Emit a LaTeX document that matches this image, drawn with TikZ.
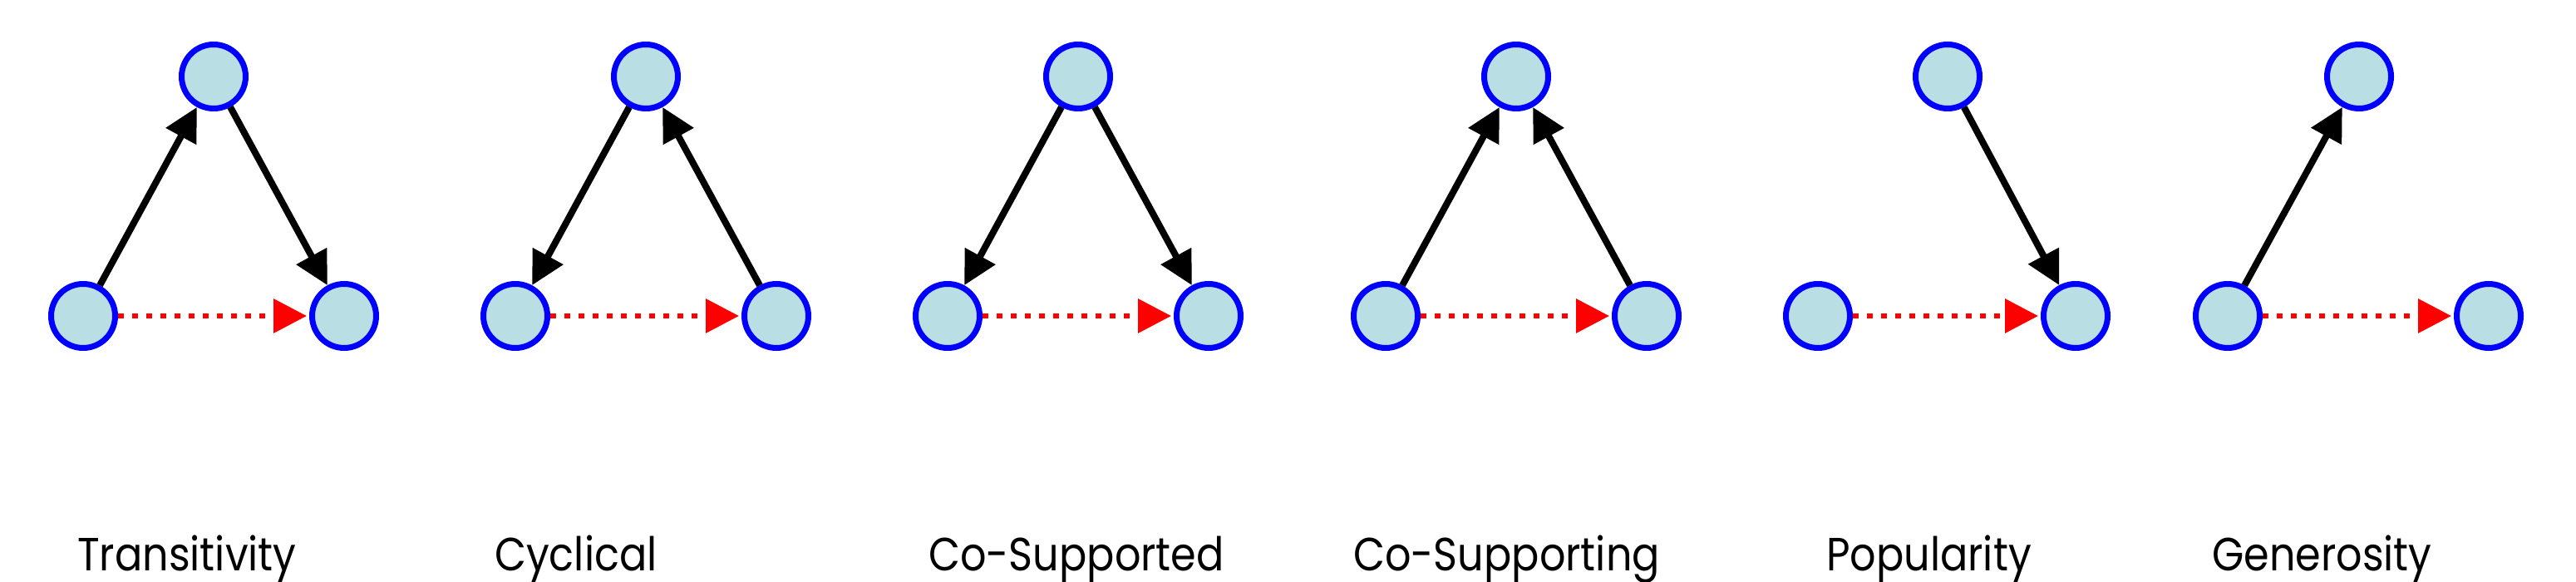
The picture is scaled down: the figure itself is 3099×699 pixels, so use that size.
\documentclass[tikz,border=0pt]{standalone}
\usepackage{fontspec}
\setmainfont{Poppins}[FakeStretch=0.88]
\usetikzlibrary{arrows.meta}
\definecolor{nodefill}{RGB}{185,223,228}
\definecolor{nodeline}{RGB}{0,0,255}
\begin{document}
\begin{tikzpicture}[x=1pt,y=1pt,
  vtx/.style={circle,draw=nodeline,fill=nodefill,line width=7pt,minimum size=77pt,inner sep=0pt},
  tie/.style={line width=8pt,draw=black,-{Triangle[length=40pt,width=40pt]}},
  tiered/.style={line width=6.5pt,draw=red,dash pattern=on 6.5pt off 10.5pt,-{Triangle[length=40pt,width=40pt]},shorten >=3pt},
  lbl/.style={anchor=base west,inner sep=0pt,font=\fontsize{56}{60}\selectfont}]
\useasboundingbox (0,0) rectangle (3099,699);
% Transitivity
\node[vtx] (a1) at (100,319) {};
\node[vtx] (b1) at (257,607) {};
\node[vtx] (c1) at (414,319) {};
\draw[tie] (a1) -- (b1);
\draw[tie] (b1) -- (c1);
\draw[tiered] (a1) -- (c1);
\node[lbl] (l1) at (93,13) {Transitivity};
% Cyclical
\node[vtx] (a2) at (620,319) {};
\node[vtx] (b2) at (777,607) {};
\node[vtx] (c2) at (934,319) {};
\draw[tie] (b2) -- (a2);
\draw[tie] (c2) -- (b2);
\draw[tiered] (a2) -- (c2);
\node[lbl] (l2) at (595,13) {Cyclical};
% Co-Supported
\node[vtx] (a3) at (1140,319) {};
\node[vtx] (b3) at (1297,607) {};
\node[vtx] (c3) at (1454,319) {};
\draw[tie] (b3) -- (a3);
\draw[tie] (b3) -- (c3);
\draw[tiered] (a3) -- (c3);
\node[lbl] (l3) at (1117,13) {Co-Supported};
% Co-Supporting
\node[vtx] (a4) at (1667,319) {};
\node[vtx] (b4) at (1824,607) {};
\node[vtx] (c4) at (1981,319) {};
\draw[tie] (a4) -- (b4);
\draw[tie] (c4) -- (b4);
\draw[tiered] (a4) -- (c4);
\node[lbl] (l4) at (1628,13) {Co-Supporting};
% Popularity
\node[vtx] (a5) at (2187,319) {};
\node[vtx] (b5) at (2343,607) {};
\node[vtx] (c5) at (2497,319) {};
\draw[tie] (b5) -- (c5);
\draw[tiered] (a5) -- (c5);
\node[lbl] (l5) at (2197,13) {Popularity};
% Generosity
\node[vtx] (a6) at (2680,319) {};
\node[vtx] (b6) at (2838,607) {};
\node[vtx] (c6) at (2994,319) {};
\draw[tie] (a6) -- (b6);
\draw[tiered] (a6) -- (c6);
\node[lbl] (l6) at (2661,13) {Generosity};
\end{tikzpicture}
\end{document}
